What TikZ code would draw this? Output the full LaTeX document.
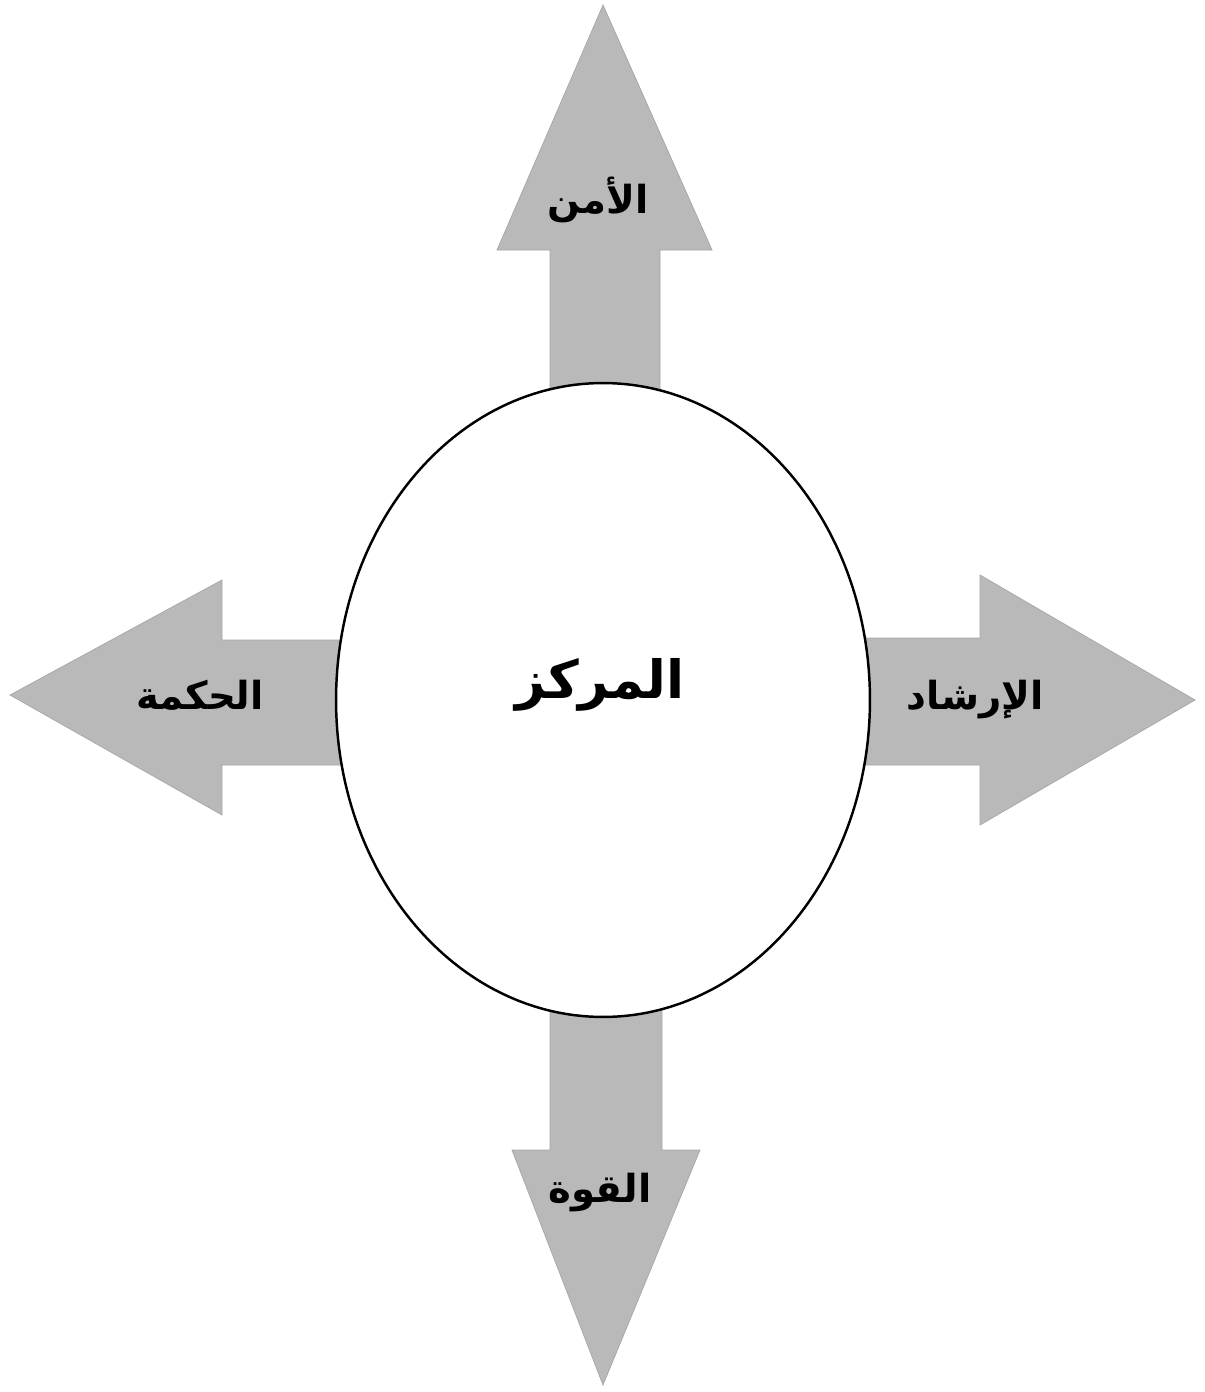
\documentclass[tikz,border=0pt]{standalone}
\usepackage{fontspec}
\newfontfamily\arabicfont[Script=Arabic]{DejaVu Sans}
\TeXXeTstate=1
\usepackage{tikz}
\usetikzlibrary{shapes.geometric}

\begin{document}
\begin{tikzpicture}[x=0.02cm, y=-0.02cm,
        arrowbody/.style={fill=gray!55, draw=gray!70, line width=0.4pt},
        label/.style={font=\arabicfont\bfseries\fontsize{22}{26}\selectfont, text=black}]
        \useasboundingbox (0,0) rectangle (1204,1392);

        % the four arrows
        \fill[arrowbody] (550,400) -- (550,250) -- (497,250) -- (603,5) -- (712,250) -- (660,250) -- (660,400) -- cycle;
        \fill[arrowbody] (850,638) -- (980,638) -- (980,575) -- (1195,700) -- (980,825) -- (980,765) -- (850,765) -- cycle;
        \fill[arrowbody] (350,640) -- (222,640) -- (222,580) -- (10,695) -- (222,815) -- (222,765) -- (350,765) -- cycle;
        \fill[arrowbody] (550,1000) -- (550,1150) -- (512,1150) -- (603,1385) -- (700,1150) -- (662,1150) -- (662,1000) -- cycle;

        % centre
        \node[ellipse, draw, line width=1.4pt, fill=white, minimum width=10.68cm, minimum height=12.68cm] (center) at (603,700) {};
        \node[label, font=\arabicfont\bfseries\fontsize{30}{36}\selectfont] (centertext) at (600,685) {\beginR المركز\endR};

        \node[label] (amn)    at (598,200)  {\beginR الأمن\endR};
        \node[label] (hikma)  at (200,695)  {\beginR الحكمة\endR};
        \node[label] (irshad) at (975,700)  {\beginR الإرشاد\endR};
        \node[label] (quwwa)  at (600,1193) {\beginR القوة\endR};
\end{tikzpicture}
\end{document}
